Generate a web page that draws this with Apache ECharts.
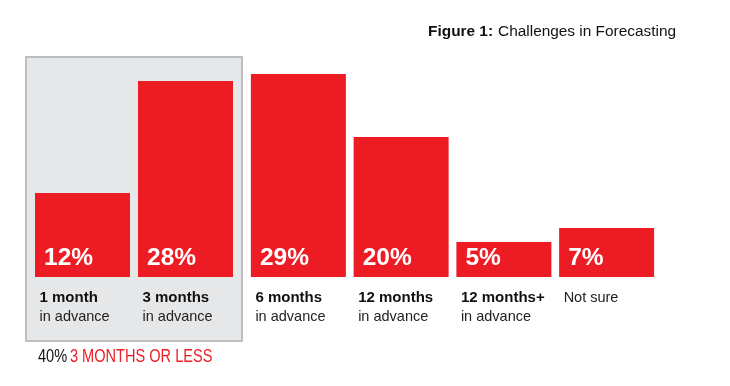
<!DOCTYPE html>
<html><head><meta charset="utf-8">
<script src="https://cdn.jsdelivr.net/npm/echarts@6/dist/echarts.min.js"></script>
<style>html,body{margin:0;padding:0;background:#fff}#c{width:730px;height:386px}</style>
</head><body><div id="c"></div>
<script>
var categories = ['1 month', '3 months', '6 months', '12 months', '12 months+', 'Not sure'];
var subLabels = ['in advance', 'in advance', 'in advance', 'in advance', 'in advance', ''];
var values = [12, 28, 29, 20, 5, 7];
var groupSplit = 2; // first group: "3 months or less"
var groupShare = '40%';
var groupText = '3 MONTHS OR LESS';
var titleBold = 'Figure 1:';
var titleText = 'Challenges in Forecasting';

var RED = '#ed1c24';
var FONT = '"Liberation Sans", Arial, Helvetica, sans-serif';

function labelFmt(i0) {
  return function (v, idx) {
    var i = i0 + idx;
    if (!subLabels[i]) return '{c|' + categories[i] + '}\n{b| }';
    return '{a|' + categories[i] + '}\n{b|' + subLabels[i] + '}';
  };
}
function xAxisFor(gi, cats, i0) {
  return {
    type: 'category', gridIndex: gi, data: cats,
    axisLine: {show: false}, axisTick: {show: false},
    axisLabel: {
      interval: 0, margin: 11, width: 86, align: 'center', overflow: 'none',
      formatter: labelFmt(i0),
      rich: {
        a: {fontFamily: FONT, fontWeight: 'bold', fontSize: 15, color: '#111', lineHeight: 19, align: 'left'},
        b: {fontFamily: FONT, fontWeight: 'normal', fontSize: 14.5, color: '#222', lineHeight: 19, align: 'left'},
        c: {fontFamily: FONT, fontWeight: 'normal', fontSize: 14.5, color: '#222', lineHeight: 19, align: 'left'}
      }
    }
  };
}
function yAxisFor(gi) {
  return {type: 'value', gridIndex: gi, min: 0, max: 30, show: false, splitLine: {show: false}};
}
function seriesFor(gi, data) {
  return {
    type: 'bar', xAxisIndex: gi, yAxisIndex: gi, data: data, barWidth: 95,
    itemStyle: {color: RED}, silent: true,
    label: {
      show: true, position: 'insideBottomLeft', distance: 6, offset: [3, 0],
      formatter: '{c}%', color: '#fff', fontFamily: FONT, fontWeight: 'bold', fontSize: 24.5
    }
  };
}

var chart = echarts.init(document.getElementById('c'), null, {renderer: 'canvas'});
chart.setOption({
  animation: false,
  backgroundColor: '#fff',
  title: [{
    text: '{t|' + titleBold + '} {s|' + titleText + '}',
    right: 49, top: 18,
    textStyle: {fontWeight: 'normal', rich: {
      t: {fontFamily: FONT, fontWeight: 'bold', fontSize: 15.4, color: '#111'},
      s: {fontFamily: FONT, fontWeight: 'normal', fontSize: 15.4, color: '#111'}
    }}
  }],
  graphic: [{
    type: 'rect', z: -10, silent: true,
    shape: {x: 26, y: 57, width: 216, height: 284},
    style: {fill: '#e6e7e8', stroke: '#bcbec0', lineWidth: 2}
  }, {
    type: 'text', silent: true, x: 38, y: 348, scaleX: 0.81,
    style: {
      text: '{k|' + groupShare + '} {r|' + groupText + '}',
      verticalAlign: 'top',
      rich: {
        k: {fontFamily: FONT, fontSize: 18, fill: '#111'},
        r: {fontFamily: FONT, fontSize: 18, fill: RED}
      }
    }
  }],
  grid: [
    {left: 31, top: 67, width: 206, height: 210},
    {left: 247, top: 67, width: 411, height: 210}
  ],
  xAxis: [
    xAxisFor(0, categories.slice(0, groupSplit), 0),
    xAxisFor(1, categories.slice(groupSplit), groupSplit)
  ],
  yAxis: [yAxisFor(0), yAxisFor(1)],
  series: [
    seriesFor(0, values.slice(0, groupSplit)),
    seriesFor(1, values.slice(groupSplit))
  ]
});
</script></body></html>
